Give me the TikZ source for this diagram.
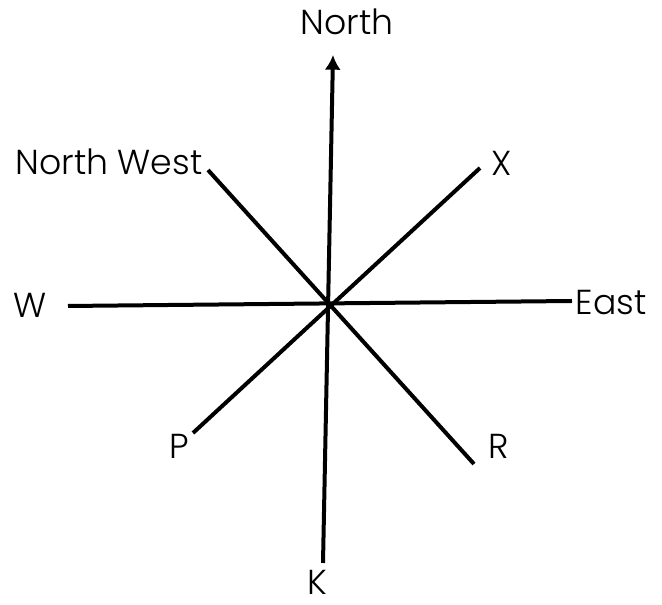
\documentclass[tikz,border=0pt]{standalone}
\usepackage{fontspec}
\setmainfont{Poppins Light}
\usetikzlibrary{arrows.meta}
\tikzset{
  axis/.style={line width=3pt},
  lab/.style={inner sep=0pt,font=\fontsize{26}{30}\selectfont}
}
\begin{document}
\begin{tikzpicture}[x=0.75pt,y=-0.75pt]
      \useasboundingbox (0,0) rectangle (662,605);
      % 线段端点
      \coordinate (n) at (333,55);
      \coordinate (k) at (323,563);
      \coordinate (w) at (68,306);
      \coordinate (e) at (572,301);
      \coordinate (nw) at (208,170);
      \coordinate (r) at (474,464);
      \coordinate (x) at (480,168);
      \coordinate (p) at (193,433);
      % 方向线
      \draw[axis,-{Latex[length=11pt,width=12pt]}] (k) -- (n);
      \draw[axis] (w) -- (e);
      \draw[axis] (nw) -- (r);
      \draw[axis] (p) -- (x);
      % 标签
      \node[lab] (north) at (347,22) {North};
      \node[lab] (nwest) at (109,162) {North West};
      \node[lab] (xlab) at (502,163) {X};
      \node[lab] (west) at (30,305) {W};
      \node[lab] (east) at (611,303) {East};
      \node[lab] (plab) at (179,446) {P};
      \node[lab] (rlab) at (499,446) {R};
      \node[lab] (klab) at (317,582) {K};
\end{tikzpicture}
\end{document}
